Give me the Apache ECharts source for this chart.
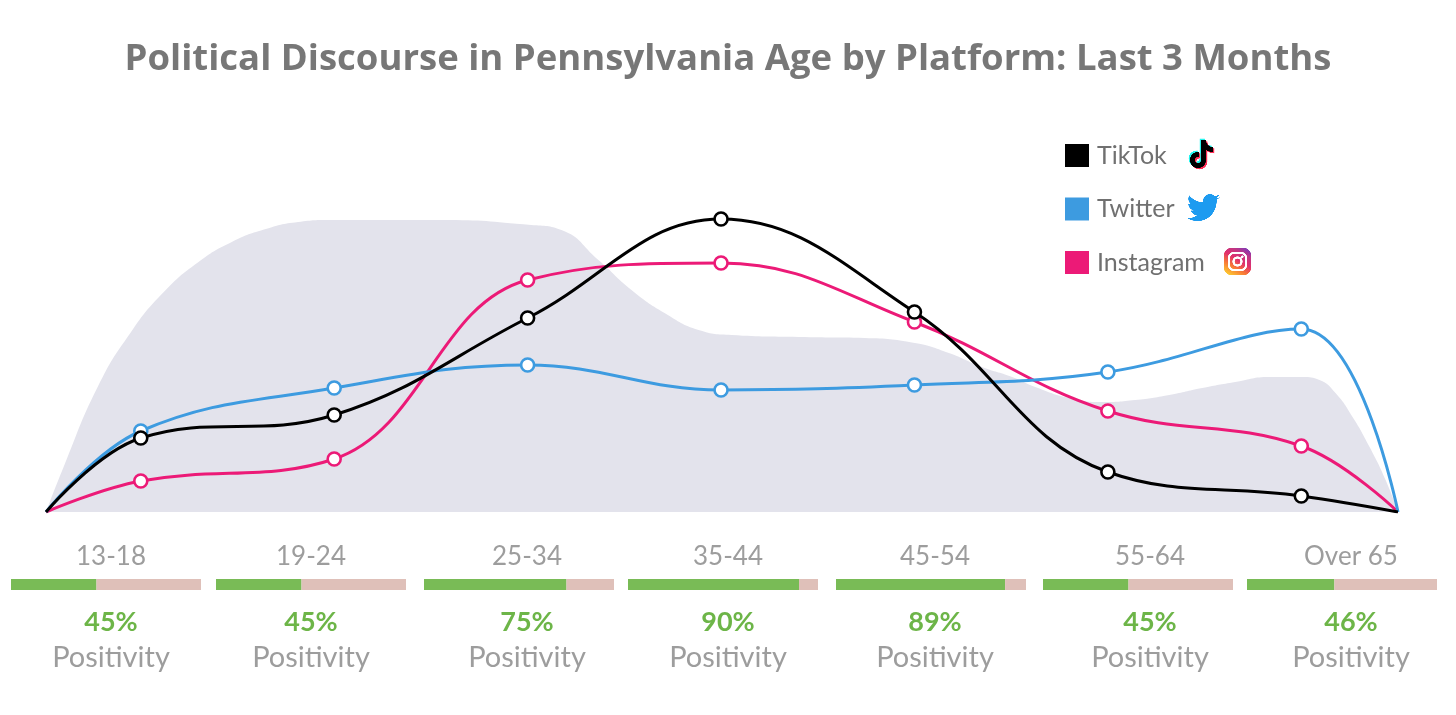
<!DOCTYPE html>
<html>
<head>
<meta charset="utf-8">
<script src="https://cdn.jsdelivr.net/npm/echarts@6/dist/echarts.min.js"></script>
<style>html,body{margin:0;padding:0;background:#fff}#c{width:1456px;height:715px}</style>
</head>
<body>
<div id="c"></div>
<script>
// ---- data ----
const titleText = 'Political Discourse in Pennsylvania Age by Platform: Last 3 Months';
const categories = ['13-18', '19-24', '25-34', '35-44', '45-54', '55-64', 'Over 65'];
const seriesNames = ['TikTok', 'Twitter', 'Instagram'];
const xPos = [-0.49, 0, 1, 2, 3, 4, 5, 6, 6.5];
const tiktok = [0, 18.5, 24.25, 48.5, 73.25, 50, 10, 4, 0];
const twitter = [0, 20.25, 31, 36.75, 30.5, 31.75, 35, 45.75, 0];
const instagram = [0, 7.75, 13.25, 58, 62.25, 47.5, 25.25, 16.5, 0];
const positivity = [45, 45, 75, 90, 89, 45, 46];
const positivityLabel = 'Positivity';
const areaX = [-0.49, -0.399, -0.223, -0.052, 0.119, 0.295, 0.466, 0.637, 0.813, 0.984, 1.553, 2.019, 2.175, 2.366, 2.537, 2.708, 2.884, 3.055, 3.402, 3.743, 4.002, 4.178, 4.349, 4.505, 4.624, 4.8, 4.97, 5.141, 5.317, 5.488, 5.659, 5.835, 6.006, 6.094, 6.177, 6.265, 6.353, 6.436, 6.5];
const areaY = [0, 11.25, 31.25, 44.9, 55, 62.4, 67.4, 70.6, 72.5, 73, 73, 71.75, 70.5, 63, 55.5, 49.75, 45.5, 44.25, 43.75, 43.5, 42.25, 39.75, 36.25, 33.75, 31.25, 28.5, 27.5, 28, 29.25, 31, 32.5, 33.75, 33.75, 33, 29.75, 23.75, 16.25, 8, 0];

// ---- layout / style ----
const FONT = 'Lato';
const colors = { TikTok: '#000000', Twitter: '#3d9be0', Instagram: '#ec1a77' };
const barLeft = [11, 216, 424, 628, 836, 1043, 1247];
const barWidth = 190;
const labelX = [111, 311, 527, 728, 935, 1150, 1351];

// ---- icon canvases ----
function makeCanvas(w, h, draw) {
  const cv = document.createElement('canvas');
  const sc = 3;
  cv.width = w * sc; cv.height = h * sc;
  const ctx = cv.getContext('2d');
  ctx.scale(sc, sc);
  draw(ctx);
  return cv;
}
const tiktokPath = 'M12 0 L17 0 C17 4 20 7 24 7 L24 12 C21 12 19 11 17 10 L17 20 C17 24.4 13.4 28 9 28 C4.6 28 1 24.4 1 20 C1 15.6 4.6 12 9 12 L10 12 L10 17 L9 17 C7.3 17 6 18.3 6 20 C6 21.7 7.3 23 9 23 C10.7 23 12 21.7 12 20 Z';
const tiktokIcon = makeCanvas(30, 34, ctx => {
  const p = new Path2D(tiktokPath);
  [['#25f4ee', 1.6, 1.6], ['#fe2c55', 4.4, 4.4], ['#000', 3, 3]].forEach(([c, dx, dy]) => {
    ctx.save(); ctx.translate(dx, dy); ctx.fillStyle = c; ctx.fill(p, 'evenodd'); ctx.restore();
  });
});
const birdPath = 'M23.953 4.57a10 10 0 01-2.825.775 4.958 4.958 0 002.163-2.723c-.951.555-2.005.959-3.127 1.184a4.92 4.92 0 00-8.384 4.482C7.69 8.095 4.067 6.13 1.64 3.162a4.822 4.822 0 00-.666 2.475c0 1.71.87 3.213 2.188 4.096a4.904 4.904 0 01-2.228-.616v.06a4.923 4.923 0 003.946 4.827 4.996 4.996 0 01-2.212.085 4.936 4.936 0 004.604 3.417 9.867 9.867 0 01-6.102 2.105c-.39 0-.779-.023-1.17-.067a13.995 13.995 0 007.557 2.209c9.053 0 13.998-7.496 13.998-14.985 0-.21 0-.42-.015-.63A9.935 9.935 0 0024 4.59z';
const twitterIcon = makeCanvas(34, 32, ctx => {
  ctx.scale(1.38, 1.38);
  ctx.fillStyle = '#1d9bf0';
  ctx.fill(new Path2D(birdPath));
});
const instaIcon = makeCanvas(28, 28, ctx => {
  const s = 27;
  const g = ctx.createLinearGradient(s * 0.2, s, s * 0.8, 0);
  g.addColorStop(0, '#fdc830'); g.addColorStop(0.3, '#f77737'); g.addColorStop(0.55, '#e1306c');
  g.addColorStop(0.8, '#c13584'); g.addColorStop(1, '#833ab4');
  ctx.fillStyle = g;
  ctx.beginPath(); ctx.roundRect(0, 0, s, s, 7); ctx.fill();
  ctx.strokeStyle = '#fff'; ctx.lineWidth = 2.2;
  ctx.beginPath(); ctx.roundRect(5, 5, 17, 17, 5); ctx.stroke();
  ctx.beginPath(); ctx.arc(13.5, 13.5, 4, 0, Math.PI * 2); ctx.stroke();
  ctx.fillStyle = '#fff';
  ctx.beginPath(); ctx.arc(18.3, 8.7, 1.3, 0, Math.PI * 2); ctx.fill();
});

const chart = echarts.init(document.getElementById('c'), null, { renderer: 'canvas' });

function pairs(xs, ys) { return xs.map((x, i) => [x, ys[i]]); }
function lineData(vals) {
  return vals.map((v, i) => {
    const d = { value: [xPos[i], v] };
    if (i === 0 || i === vals.length - 1) d.symbol = 'none';
    return d;
  });
}

const grids = [{ left: 46, right: 58, top: 112, bottom: 203 }];
const xAxes = [{ type: 'value', gridIndex: 0, min: -0.49, max: 6.5, show: false }];
const yAxes = [{ type: 'value', gridIndex: 0, min: 0, max: 100, show: false }];
const series = [
  { type: 'line', name: 'area', xAxisIndex: 0, yAxisIndex: 0, data: pairs(areaX, areaY), smooth: 0.5,
    symbol: 'none', lineStyle: { width: 0 }, areaStyle: { color: '#e3e3ec', opacity: 1 }, z: 1, silent: true }
];
[['Instagram', instagram], ['Twitter', twitter], ['TikTok', tiktok]].forEach(([n, vals], k) => {
  series.push({
    type: 'line', name: n, xAxisIndex: 0, yAxisIndex: 0, data: lineData(vals), smooth: 0.4,
    symbol: 'circle', symbolSize: 13, showAllSymbol: true,
    itemStyle: { color: '#fff', borderColor: colors[n], borderWidth: 2.6 },
    lineStyle: { color: colors[n], width: 3 }, color: colors[n], z: 3 + k
  });
});

categories.forEach((c, i) => {
  const gi = i + 1;
  grids.push({ left: barLeft[i], width: barWidth, top: 579, height: 11 });
  xAxes.push({ type: 'value', gridIndex: gi, min: 0, max: 100, show: false });
  yAxes.push({ type: 'category', gridIndex: gi, data: [c], show: false });
  series.push({ type: 'bar', name: 'pos' + i, xAxisIndex: gi, yAxisIndex: gi, stack: 's' + i,
    data: [positivity[i]], barWidth: '100%', itemStyle: { color: '#79bb56' }, silent: true });
  series.push({ type: 'bar', name: 'neg' + i, xAxisIndex: gi, yAxisIndex: gi, stack: 's' + i,
    data: [100 - positivity[i]], barWidth: '100%', itemStyle: { color: '#dfc0b9' }, silent: true });
});

const graphics = [];
categories.forEach((c, i) => {
  graphics.push({ type: 'text', x: labelX[i], y: 557, style: { text: c, font: '26px ' + FONT, fill: '#9d9d9d', textAlign: 'center', textVerticalAlign: 'middle' } });
  graphics.push({ type: 'text', x: labelX[i], y: 622, style: { text: positivity[i] + '%', font: 'bold 27px ' + FONT, fill: '#6db548', textAlign: 'center', textVerticalAlign: 'middle' } });
  graphics.push({ type: 'text', x: labelX[i], y: 658, style: { text: positivityLabel, font: '29px ' + FONT, fill: '#9d9d9d', textAlign: 'center', textVerticalAlign: 'middle' } });
});
graphics.push({ type: 'image', x: 1186, y: 137, style: { image: tiktokIcon, width: 30, height: 34 } });
graphics.push({ type: 'image', x: 1187, y: 191, style: { image: twitterIcon, width: 34, height: 32 } });
graphics.push({ type: 'image', x: 1224, y: 248, style: { image: instaIcon, width: 28, height: 28 } });

chart.setOption({
  animation: false,
  title: { text: titleText, left: 'center', top: 36, textStyle: { fontFamily: 'Open Sans', fontWeight: 'bold', fontSize: 36.5, color: '#777777' } },
  legend: {
    data: seriesNames.map(n => ({ name: n, itemStyle: { color: colors[n], borderWidth: 0 } })),
    orient: 'vertical', left: 1060, top: 138, icon: 'rect',
    itemWidth: 24, itemHeight: 23, itemGap: 28.5, selectedMode: false,
    textStyle: { fontFamily: FONT, fontSize: 25, color: '#707070', padding: [0, 0, 0, 3] }
  },
  grid: grids, xAxis: xAxes, yAxis: yAxes, series: series, graphic: graphics
});
</script>
</body>
</html>
